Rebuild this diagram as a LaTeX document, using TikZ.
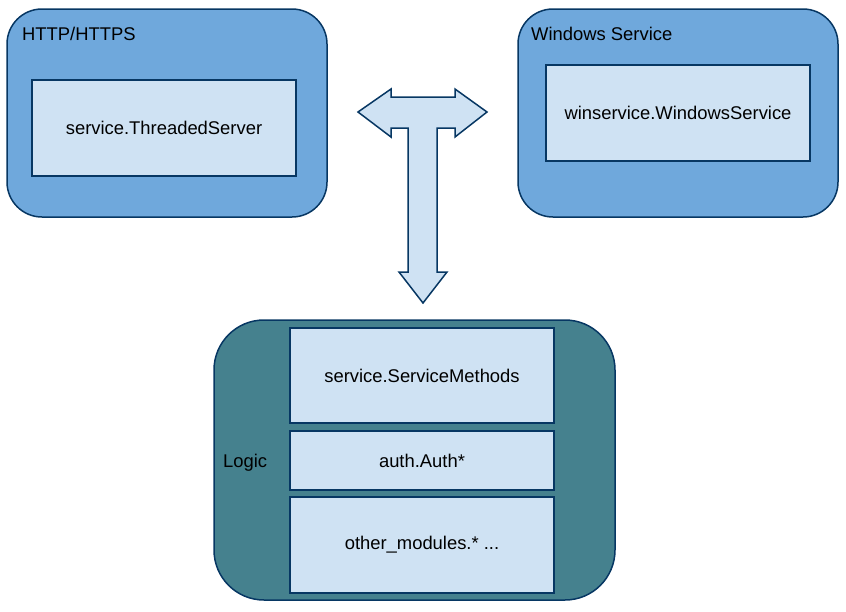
\documentclass[tikz,border=0pt]{standalone}
\usepackage{fontspec}
\setmainfont{Liberation Sans}
\definecolor{outerblue}{HTML}{6FA8DC}
\definecolor{innerblue}{HTML}{CFE2F3}
\definecolor{teal}{HTML}{45818E}
\definecolor{edge}{HTML}{073763}
\tikzset{
  container/.style={draw=edge, line width=1.5pt, rounded corners=#1, inner sep=0pt},
  module/.style={draw=edge, line width=1.5pt, fill=innerblue, inner sep=0pt, font=\fontsize{18.4}{21}\selectfont},
  caption/.style={font=\fontsize{18.4}{21}\selectfont, inner sep=0pt, anchor=west}
}
\begin{document}
\begin{tikzpicture}[x=1pt,y=-1pt]
\useasboundingbox (0,0) rectangle (846,611);
% containers
\node[container=35, fill=outerblue, minimum width=320, minimum height=208] (http) at (167,113) {};
\node[container=35, fill=outerblue, minimum width=320, minimum height=208] (win) at (678,113) {};
\node[container=50, fill=teal, minimum width=401, minimum height=280] (logic) at (414.5,460) {};
% captions
\node[caption] (httpl) at (22,34) {HTTP/HTTPS};
\node[caption] (winl) at (531,34) {Windows Service};
\node[caption] (logicl) at (223,463) {Logic};
% modules
\node[module, minimum width=264, minimum height=96] (ts) at (164,128) {service.ThreadedServer};
\node[module, minimum width=264, minimum height=96] (ws) at (678,113) {winservice.WindowsService};
\node[module, minimum width=264, minimum height=95] (sm) at (422,375.5) {service.ServiceMethods};
\node[module, minimum width=264, minimum height=59] (au) at (422,460.5) {auth.Auth*};
\node[module, minimum width=264, minimum height=96] (om) at (422,545) {other\_modules.* ...};
% T-shaped arrow
\draw[draw=edge, line width=1.5pt, fill=innerblue, line join=miter]
  (358,112) -- (391,89) -- (391,97) -- (455,97) -- (455,89) -- (487,112)
  -- (455,137) -- (455,128) -- (437,128) -- (437,272) -- (447,272)
  -- (423,303) -- (399,272) -- (408,272) -- (408,128) -- (391,128)
  -- (391,137) -- cycle;
\end{tikzpicture}
\end{document}
